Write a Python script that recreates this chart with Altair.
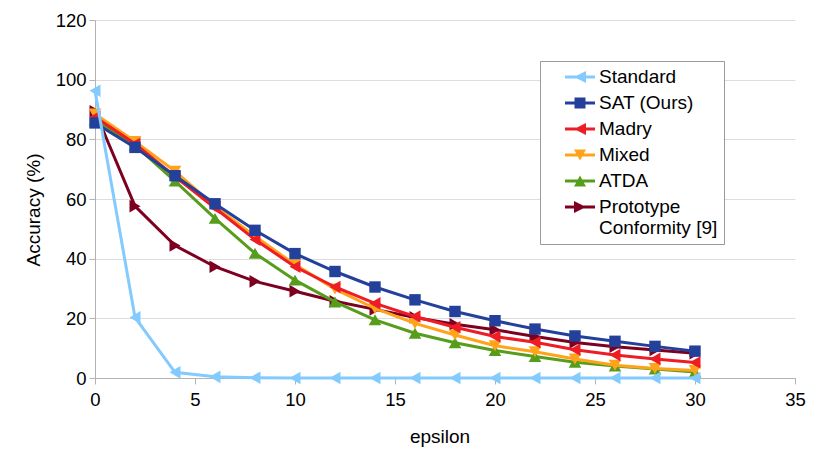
import altair as alt
import pandas as pd

eps = [0, 2, 4, 6, 8, 10, 12, 14, 16, 18, 20, 22, 24, 26, 28, 30]
standard = [96.3, 20.3, 1.9, 0.4, 0.1, 0, 0, 0, 0, 0, 0, 0, 0, 0, 0, 0]
sat = [85.5, 77.3, 67.8, 58.4, 49.5, 41.7, 35.7, 30.5, 26.2, 22.3, 19.2, 16.4, 14.1, 12.3, 10.6, 9.0]
madry = [87.5, 78.5, 67.5, 57.0, 46.4, 37.3, 30.5, 25.0, 20.6, 17.0, 13.9, 12.0, 9.5, 7.7, 6.4, 5.2]
mixed = [88.5, 79.3, 69.3, 57.5, 47.5, 38.0, 29.8, 23.3, 18.3, 14.4, 10.8, 8.8, 6.4, 4.3, 3.2, 2.5]
atda = [86.5, 78.0, 66.0, 53.5, 41.8, 32.8, 25.5, 19.5, 15.0, 11.8, 9.2, 7.2, 5.3, 4.0, 3.0, 2.0]
proto = [89.4, 57.6, 44.4, 37.3, 32.4, 29.1, 25.7, 23.0, 20.3, 18.0, 16.2, 13.9, 11.9, 10.5, 9.4, 8.3]

series_names = ["Standard", "SAT (Ours)", "Madry", "Mixed", "ATDA", "Prototype Conformity [9]"]
series_values = [standard, sat, madry, mixed, atda, proto]
colors = ["#83CAFF", "#23409A", "#EE1C25", "#FFA31A", "#579D1C", "#7E0021"]
shapes = ["triangle-left", "square", "triangle-left", "triangle-down", "triangle-up", "triangle-right"]

x_ticks = [0, 5, 10, 15, 20, 25, 30, 35]
y_ticks = [0, 20, 40, 60, 80, 100, 120]

# legend symbols: line segment + marker (filled path, unit = 10px at symbolSize 400)
line_part = "M-1.5,-0.15H1.5V0.15H-1.5Z"
marker_paths = {
    "triangle-left": "M-0.6,0L0.6,-0.6L0.6,0.6Z",
    "square": "M-0.55,-0.55H0.55V0.55H-0.55Z",
    "triangle-down": "M-0.6,-0.55L0.6,-0.55L0,0.55Z",
    "triangle-up": "M-0.6,0.55L0,-0.55L0.6,0.55Z",
    "triangle-right": "M0.6,0L-0.6,0.6L-0.6,-0.6Z",
}
legend_paths = [line_part + marker_paths[s] for s in shapes]

rows = []
for name, vals in zip(series_names, series_values):
    for e, v in zip(eps, vals):
        rows.append({"eps": e, "acc": v, "series": name})
df = pd.DataFrame(rows)

base = alt.Chart(df)
x_enc = alt.X(
    "eps:Q",
    scale=alt.Scale(domain=[0, 35], nice=False, zero=False),
    axis=alt.Axis(values=x_ticks, grid=False, tickSize=6, labelPadding=6, labelFlush=False,
                  titleX=344.5, titleY=58, titleBaseline="middle"),
    title="epsilon",
)
y_enc = alt.Y(
    "acc:Q",
    scale=alt.Scale(domain=[0, 120], nice=False),
    axis=alt.Axis(values=y_ticks, grid=True, tickSize=6, labelPadding=3, labelFlush=False,
                  titleX=-62, titleY=189.5, titleBaseline="middle", titleAngle=-90),
    title="Accuracy (%)",
)

layers = []
draw_order = [5, 4, 3, 2, 1, 0]
for i in draw_order:
    name = series_names[i]
    sub = base.transform_filter(alt.datum.series == name)
    layers.append(sub.mark_line(strokeWidth=3, color=colors[i]).encode(x=x_enc, y=y_enc))
    size = 130 if shapes[i] == "square" else 160
    layers.append(
        sub.mark_point(shape=shapes[i], filled=True, size=size, color=colors[i], opacity=1)
        .encode(x=x_enc, y=y_enc)
    )

leg = dict(
    orient="none", legendX=445, legendY=41, title=None,
    labelFont="Liberation Sans", labelFontSize=19, labelColor="#000000",
    symbolSize=400, symbolOffset=24, labelOffset=9, rowPadding=6, padding=6,
    strokeColor="#9a9a9a", fillColor="#ffffff", symbolStrokeWidth=0, symbolOpacity=1,
    labelExpr="datum.label == 'Prototype Conformity [9]' ? ['Prototype', 'Conformity [9]   '] : datum.label",
)
legend_layer = base.mark_point(filled=True, opacity=0).encode(
    x=x_enc, y=y_enc,
    color=alt.Color("series:N", scale=alt.Scale(domain=series_names, range=colors), legend=alt.Legend(**leg)),
    shape=alt.Shape("series:N", scale=alt.Scale(domain=series_names, range=legend_paths), legend=alt.Legend(**leg)),
)
layers.append(legend_layer)

chart = alt.layer(*layers).properties(
    width=700, height=358,
    autosize=alt.AutoSizeParams(type="none"),
    padding={"left": 87, "top": 12, "right": 20, "bottom": 70},
).configure_view(stroke=None).configure_axis(
    labelFont="Liberation Sans", labelFontSize=18.5, labelColor="#000000",
    titleFont="Liberation Sans", titleFontSize=19, titleFontWeight="normal", titleColor="#000000",
    domainColor="#b3b3b3", tickColor="#b3b3b3", gridColor="#dddddd",
)

chart.save("out.html", embed_options={"renderer": "svg", "actions": False})
